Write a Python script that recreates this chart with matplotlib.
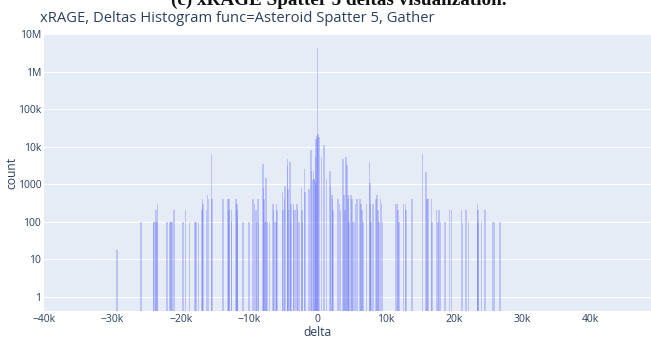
import numpy as np
import matplotlib.pyplot as plt
from matplotlib.ticker import FixedLocator, FixedFormatter

# delta value (bin position) and count for every non-empty bin
deltas = [
    -29300, -25800,
    -24000, -23900, -23700, -23600, -23500, -23400,
    -22000, -21600, -21450, -21300, -21000,
    -19700, -19300, -18700, -17900, -17800, -17400,
    -16900, -16800, -16700, -16200, -16050, -15950, -15500, -15400,
    -13800, -13100, -12950, -12900, -12600, -12550,
    -11900, -11800, -11750, -11700, -10900, -10000,
    -9400, -9200, -9000, -8900, -8700, -8600,
    -8000, -7900, -7800, -7700, -7500, -7400, -7000,
    -6500, -6400, -6300, -6100, -6000, -5900, -5100, -5050,
    -4800, -4750, -4400, -4350, -4300, -4250, -4000, -3950, -3900,
    -3500, -3450, -3200, -3000, -2900, -2700, -2300, -2250, -2200,
    -1900, -1850, -1200, -900, -850,
    -700, -600, -500, -400, -300, -250, -200, -100, 0, 50, 150,
    300, 600, 1000, 1300,
    1800, 1900, 2100, 2200, 2300, 3000, 3200, 3400,
    3700, 3900, 4000, 4200, 4350, 4450, 4550, 4600,
    4900, 5050, 5200, 5400, 5600, 5800,
    6200, 6400, 6550, 6700, 7200, 7600, 7700, 7750, 7800, 8100,
    8600, 8750, 8850, 9000, 9200, 9350, 9500,
    11400, 11600, 11750, 11900, 12600, 12900, 13000, 13800,
    15350, 15900, 16050, 16200, 16700, 16750, 17400, 17600, 17800, 18000,
    18700, 19300, 19600, 21100, 21250, 21700, 22100,
    23400, 23450, 23500, 24000, 24500, 25700, 25900, 26700,
]
counts = [
    18, 100,
    100, 100, 100, 200, 100, 300,
    100, 100, 100, 100, 200,
    100, 200, 100, 100, 100, 100,
    200, 400, 300, 200, 500, 400, 6200, 400,
    400, 400, 400, 200, 100, 200,
    400, 300, 200, 100, 100, 100,
    400, 300, 200, 100, 400, 100,
    3500, 800, 400, 100, 1500, 100, 100,
    300, 200, 100, 100, 300, 200, 600, 200,
    400, 900, 4700, 3000, 750, 200, 4000, 100, 300,
    300, 200, 200, 300, 200, 100, 800, 200, 100,
    2500, 600, 750, 8100, 2300,
    1300, 2300, 1400, 1300, 5400, 1100, 16000, 19500, 4300000, 21700, 17500,
    17500, 5000, 11000, 1400,
    2200, 830, 500, 400, 200, 400, 300, 200,
    4700, 500, 200, 5200, 3300, 500, 400, 100,
    500, 400, 100, 100, 300, 400,
    400, 300, 200, 100, 300, 3800, 1050, 300, 100, 300,
    400, 500, 200, 100, 400, 300, 100,
    300, 300, 200, 100, 300, 300, 200, 400,
    6300, 2100, 400, 400, 400, 100, 200, 100, 200, 100,
    100, 200, 200, 200, 100, 200, 100,
    300, 200, 100, 100, 200, 100, 100, 100,
]

x_ticks = [-40000, -30000, -20000, -10000, 0, 10000, 20000, 30000, 40000]
x_labels = ["\u221240k", "\u221230k", "\u221220k", "\u221210k", "0", "10k", "20k", "30k", "40k"]
y_ticks = [1, 10, 100, 1000, 1e4, 1e5, 1e6, 1e7]
y_labels = ["1", "10", "100", "1000", "10k", "100k", "1M", "10M"]

plt.rcParams["font.family"] = ["Open Sans", "DejaVu Sans"]
ink = "#2a3f5f"

W, H = 651, 339
fig = plt.figure(figsize=(W / 100, H / 100), dpi=100)
ax = fig.add_axes([44 / W, (H - 311) / H, (W - 44) / W, 277 / H])
ax.set_facecolor("#e5ecf6")

ax.bar(deltas, counts, width=230, bottom=0.01, color="#636efa", alpha=0.33,
       linewidth=0, antialiased=False, zorder=3)

ax.set_yscale("log")
ax.set_xlim(-40000, 48800)
ax.set_ylim(10 ** -0.38, 1e7)

ax.xaxis.set_major_locator(FixedLocator(x_ticks))
ax.xaxis.set_major_formatter(FixedFormatter(x_labels))
ax.yaxis.set_major_locator(FixedLocator(y_ticks))
ax.yaxis.set_major_formatter(FixedFormatter(y_labels))
ax.yaxis.set_minor_locator(FixedLocator([]))
ax.tick_params(length=0, labelsize=7.5, labelcolor=ink, pad=2)
ax.grid(True, axis="y", color="white", linewidth=0.8, zorder=0)
ax.set_axisbelow(True)
for s in ax.spines.values():
    s.set_visible(False)

fig.text(317.6 / W, 1 - 332 / H, "delta", ha="center", va="center", fontsize=8.7, color=ink)
fig.text(12 / W, 1 - 173 / H, "count", ha="center", va="center", rotation=90,
         fontsize=8.7, color=ink)

fig.text(40 / W, 1 - 18 / H, "xRAGE, Deltas Histogram func=Asteroid Spatter 5, Gather",
         ha="left", va="center", fontsize=10.6, color=ink)
fig.text(339 / W, 1 - 5 / H, "(c) xRAGE Spatter 5 deltas visualization.",
         ha="center", va="baseline", fontsize=13.8, fontweight="bold",
         family=["Liberation Serif", "DejaVu Serif"], color="#111111")

fig.savefig("out.png", dpi=100, facecolor="white")
